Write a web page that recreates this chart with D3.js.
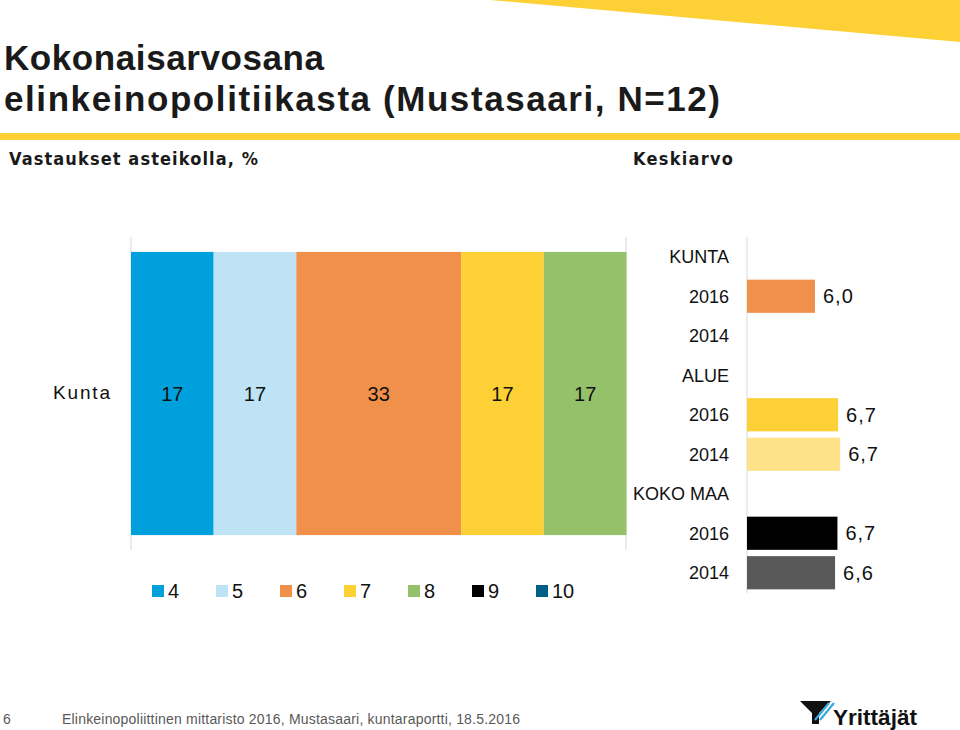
<!DOCTYPE html>
<html><head><meta charset="utf-8">
<script src="https://cdn.jsdelivr.net/npm/d3@7"></script>
<style>
html,body{margin:0;padding:0;background:#fff;}
svg{display:block;font-family:"Liberation Sans",Arial,Helvetica,sans-serif;}
.narrow{font-family:"Liberation Sans Narrow","Arial Narrow","DejaVu Sans Condensed",sans-serif;}
</style></head>
<body>
<svg id="c" width="960" height="730"></svg>
<script>
// ---- data ----
const categories = ["Kunta"];
const scaleLabels = ["4","5","6","7","8","9","10"];
const shares = [16.7, 16.7, 33.3, 16.7, 16.7, 0, 0];   // % of answers per grade
const scaleColors = ["#00a0dc","#bde3f5","#f0904a","#fdd035","#95c16a","#000000","#005f87"];

const groups = ["KUNTA","ALUE","KOKO MAA"];
const years = ["2016","2014"];
const means = [[6.0, null],[6.68, 6.74],[6.66, 6.59]];
const meanColors = [["#f0904a","#f0904a"],["#fdd035","#fde28a"],["#000000","#595959"]];

const svg = d3.select("#c");

// decorations
svg.append("polygon").attr("points","490,0 960,0 960,42").attr("fill","#fdd035");
svg.append("rect").attr("x",0).attr("y",133).attr("width",960).attr("height",7).attr("fill","#fdd035");

// titles
svg.append("text").attr("x",4).attr("y",70).attr("font-size",35).attr("font-weight","bold")
  .attr("fill","#1a1a1a").attr("textLength",320).attr("lengthAdjust","spacing").text("Kokonaisarvosana");
svg.append("text").attr("x",4).attr("y",111).attr("font-size",35).attr("font-weight","bold")
  .attr("fill","#1a1a1a").attr("textLength",716).attr("lengthAdjust","spacing").text("elinkeinopolitiikasta (Mustasaari, N=12)");
svg.append("text").attr("class","narrow").attr("x",9).attr("y",165).attr("font-size",18).attr("font-weight","bold")
  .attr("fill","#1a1a1a").attr("textLength",249).attr("lengthAdjust","spacing").text("Vastaukset asteikolla, %");
svg.append("text").attr("class","narrow").attr("x",633).attr("y",165).attr("font-size",18).attr("font-weight","bold")
  .attr("fill","#1a1a1a").attr("textLength",100).attr("lengthAdjust","spacing").text("Keskiarvo");

// ---- left stacked bar ----
const xL = d3.scaleLinear().domain([0,100]).range([131,626]);
const yL = d3.scaleBand().domain(categories).range([237,550]).padding(0.05);

[0,100].forEach(v=>{
  svg.append("line").attr("x1",xL(v)).attr("x2",xL(v)).attr("y1",237).attr("y2",550)
    .attr("stroke","#d9d9d9").attr("stroke-width",1);
});

const stackData = [];
let acc = 0;
shares.forEach((v,i)=>{ stackData.push({i, x0:acc, x1:acc+v, v}); acc += v; });

categories.forEach(cat=>{
  const g = svg.append("g");
  g.selectAll("rect").data(stackData.filter(d=>d.v>0)).join("rect")
    .attr("x",d=>xL(d.x0)).attr("width",d=>xL(d.x1)-xL(d.x0))
    .attr("y",yL(cat)).attr("height",yL.bandwidth())
    .attr("fill",d=>scaleColors[d.i]);
  g.selectAll("text").data(stackData.filter(d=>d.v>0)).join("text")
    .attr("x",d=>(xL(d.x0)+xL(d.x1))/2).attr("y",yL(cat)+yL.bandwidth()/2)
    .attr("dy","0.35em").attr("text-anchor","middle").attr("font-size",20).attr("fill","#111")
    .text(d=>Math.round(d.v));
  svg.append("text").attr("x",110).attr("y",yL(cat)+yL.bandwidth()/2-1).attr("dy","0.35em")
    .attr("text-anchor","end").attr("font-size",19).attr("fill","#111")
    .attr("textLength",57).attr("lengthAdjust","spacing").text(cat);
});

// legend
const lx = d3.scalePoint().domain(scaleLabels).range([152,536]);
const lg = svg.append("g");
scaleLabels.forEach((s,i)=>{
  lg.append("rect").attr("x",lx(s)).attr("y",585).attr("width",12).attr("height",12).attr("fill",scaleColors[i]);
  lg.append("text").attr("x",lx(s)+16).attr("y",598).attr("font-size",20).attr("fill","#111").text(s);
});

// ---- right mean bars ----
const rows = [];
groups.forEach((g,gi)=>{
  rows.push({label:g, head:true});
  years.forEach((y,yi)=>rows.push({label:y, head:false, v:means[gi][yi], c:meanColors[gi][yi]}));
});
const xR = d3.scaleLinear().domain([4,10]).range([747,951]);
const yR = d3.scaleBand().domain(d3.range(rows.length)).range([237,592.5]).paddingInner(0.16).paddingOuter(0.08);

svg.append("line").attr("x1",xR(4)).attr("x2",xR(4)).attr("y1",237).attr("y2",593)
  .attr("stroke","#d9d9d9").attr("stroke-width",1);

rows.forEach((r,i)=>{
  const cy = yR(i)+yR.bandwidth()/2;
  svg.append("text").attr("x",729).attr("y",cy).attr("dy","0.35em").attr("text-anchor","end")
    .attr("font-size",18).attr("fill","#111").text(r.label);
  if(!r.head && r.v!=null){
    svg.append("rect").attr("x",xR(4)).attr("y",yR(i)).attr("width",xR(r.v)-xR(4))
      .attr("height",yR.bandwidth()).attr("fill",r.c);
    svg.append("text").attr("x",xR(r.v)+8).attr("y",cy).attr("dy","0.35em")
      .attr("font-size",20).attr("fill","#111").attr("letter-spacing",1)
      .text(d3.format(".1f")(r.v).replace(".",","));
  }
});

// footer
svg.append("text").attr("x",3).attr("y",724).attr("font-size",14).attr("fill","#595959").text("6");
svg.append("text").attr("x",62).attr("y",724).attr("font-size",14).attr("fill","#595959")
  .attr("textLength",458).attr("lengthAdjust","spacing")
  .text("Elinkeinopoliittinen mittaristo 2016, Mustasaari, kuntaraportti, 18.5.2016");

// logo
const logo = svg.append("g");
logo.append("polygon").attr("points","800,701 831,701 819,713 819,724 812,724 812,713").attr("fill","#111");
logo.append("line").attr("x1",829).attr("y1",703).attr("x2",815).attr("y2",720).attr("stroke","#3aa8dc").attr("stroke-width",2.2);
logo.append("line").attr("x1",834).attr("y1",703).attr("x2",820).attr("y2",720).attr("stroke","#3aa8dc").attr("stroke-width",2.2);
logo.append("text").attr("x",833).attr("y",725).attr("font-size",22).attr("font-weight","bold").attr("fill","#111")
  .attr("textLength",84).attr("lengthAdjust","spacingAndGlyphs").text("Yrittäjät");
</script>
</body></html>
